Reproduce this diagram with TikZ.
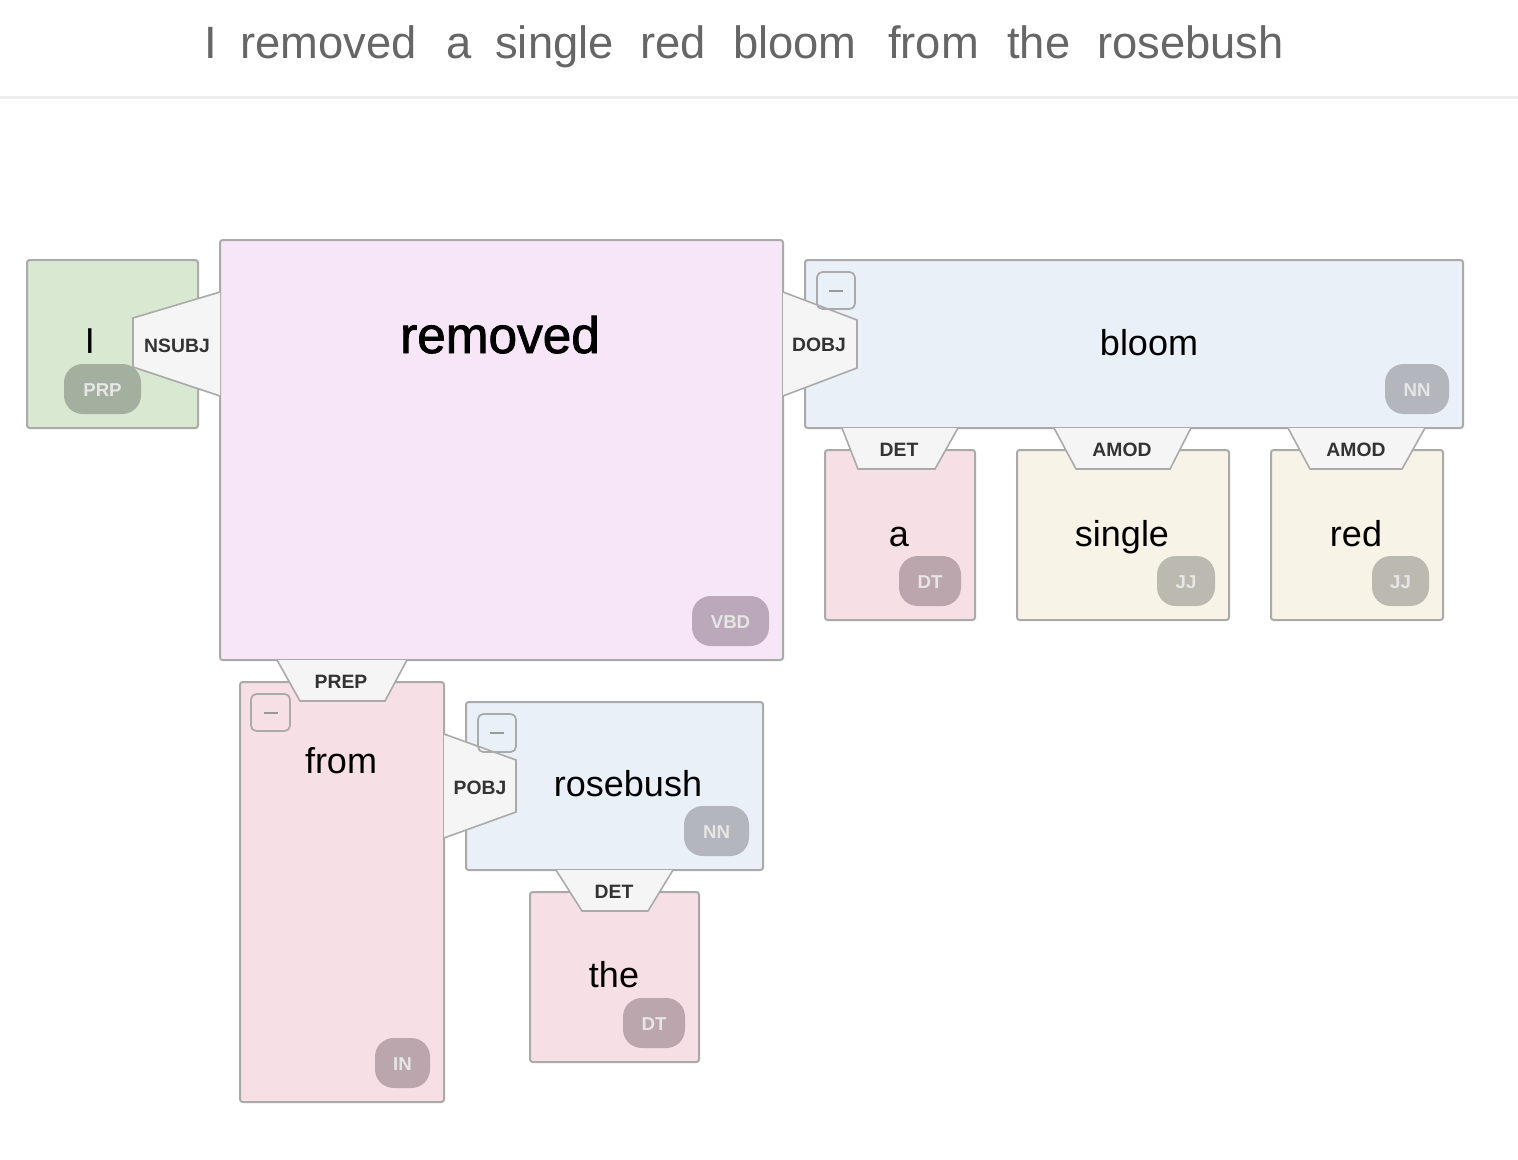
\documentclass[tikz,border=0pt]{standalone}
\usepackage{fontspec}
\setmainfont{Liberation Sans}
\newfontfamily\semibold[FakeBold=1.6]{Liberation Sans}
\definecolor{hdrtxt}{HTML}{666666}
\definecolor{hdrline}{HTML}{EEEEEE}
\definecolor{edge}{HTML}{AAAAAA}
\definecolor{fgreen}{HTML}{D9E8D0}
\definecolor{fviolet}{HTML}{F7E6F7}
\definecolor{fblue}{HTML}{E9F0F7}
\definecolor{fpink}{HTML}{F7DFE6}
\definecolor{fcream}{HTML}{F7F3E6}
\definecolor{flabel}{HTML}{F5F5F5}
\definecolor{tgreen}{HTML}{A4B09F}
\definecolor{tviolet}{HTML}{BBA9BB}
\definecolor{tblue}{HTML}{B3B6BD}
\definecolor{tpink}{HTML}{BCA6AD}
\definecolor{tcream}{HTML}{BCBAB0}
\definecolor{tagtxt}{HTML}{E6E6E6}
\definecolor{lbltxt}{HTML}{333333}
\definecolor{btn}{HTML}{999999}
\tikzset{
  boxline/.style={draw=edge, line width=1.5pt, rounded corners=2pt},
  lblshape/.style={draw=edge, line width=1.2pt, fill=flabel, line join=miter},
  hdrword/.style={anchor=base west, inner sep=0pt, text=hdrtxt, font=\fontsize{34}{40}\selectfont},
  word/.style={anchor=base, inner sep=0pt, font=\fontsize{27}{32}\selectfont},
  bigword/.style={anchor=base, inner sep=0pt, font=\semibold\fontsize{38.5}{44}\selectfont},
  lbl/.style={anchor=base, inner sep=0pt, text=lbltxt, font=\bfseries\fontsize{14.5}{17}\selectfont},
  tagtext/.style={inner sep=0pt, text=tagtxt, font=\bfseries\fontsize{14}{17}\selectfont},
  tagbox/.style={rounded corners=14pt},
  btnbox/.style={draw=edge, line width=1.3pt, rounded corners=4pt},
  btnmark/.style={draw=btn, line width=1.5pt}
}
\begin{document}
\begin{tikzpicture}[x=0.75pt, y=-0.75pt]
\useasboundingbox (0,0) rectangle (1518,1160);
\fill[white] (0,0) rectangle (1518,1160);
% header
\node[hdrword] (h1) at (204,58) {I};
\node[hdrword] (h2) at (240,58) {removed};
\node[hdrword] (h3) at (446,58) {a};
\node[hdrword] (h4) at (495,58) {single};
\node[hdrword] (h5) at (640,58) {red};
\node[hdrword] (h6) at (733,58) {bloom};
\node[hdrword] (h7) at (888,58) {from};
\node[hdrword] (h8) at (1007,58) {the};
\node[hdrword] (h9) at (1097,58) {rosebush};
\fill[hdrline] (0,95.5) rectangle (1518,98.5);

% boxes
\draw[boxline, fill=fgreen] (27,260) rectangle (198,428);
\draw[boxline, fill=fviolet] (220,240) rectangle (783,660);
\draw[boxline, fill=fblue] (805,260) rectangle (1463,428);
\draw[boxline, fill=fpink] (825,450) rectangle (975,620);
\draw[boxline, fill=fcream] (1017,450) rectangle (1229,620);
\draw[boxline, fill=fcream] (1271,450) rectangle (1443,620);
\draw[boxline, fill=fpink] (240,682) rectangle (444,1102);
\draw[boxline, fill=fblue] (466,702) rectangle (763,870);
\draw[boxline, fill=fpink] (530,892) rectangle (699,1062);

% words
\node[word] (wI) at (90,353) {I};
\node[bigword] (wremoved) at (500,353) {removed};
\node[word] (wbloom) at (1149,355) {bloom};
\node[word] (wa) at (899,546) {a};
\node[word] (wsingle) at (1122,546) {single};
\node[word] (wred) at (1356,546) {red};
\node[word] (wfrom) at (341,773) {from};
\node[word] (wrosebush) at (628,796) {rosebush};
\node[word] (wthe) at (614,987) {the};

% tags
\fill[tgreen, tagbox] (64,364) rectangle (141,414);
\node[tagtext] (tPRP) at (102.5,390) {PRP};
\fill[tviolet, tagbox] (692,596) rectangle (769,646);
\node[tagtext] (tVBD) at (730.5,622) {VBD};
\fill[tblue, tagbox] (1385,364) rectangle (1449,414);
\node[tagtext] (tNN1) at (1417,390) {NN};
\fill[tpink, tagbox] (899,556) rectangle (961,606);
\node[tagtext] (tDT1) at (930,582) {DT};
\fill[tcream, tagbox] (1157,556) rectangle (1215,606);
\node[tagtext] (tJJ1) at (1186,582) {JJ};
\fill[tcream, tagbox] (1372,556) rectangle (1429,606);
\node[tagtext] (tJJ2) at (1400.5,582) {JJ};
\fill[tpink, tagbox] (375,1038) rectangle (430,1088);
\node[tagtext] (tIN) at (402.5,1064) {IN};
\fill[tblue, tagbox] (684,806) rectangle (749,856);
\node[tagtext] (tNN2) at (716.5,832) {NN};
\fill[tpink, tagbox] (623,998) rectangle (685,1048);
\node[tagtext] (tDT2) at (654,1024) {DT};

% relation labels
\draw[lblshape] (220,292) -- (133,318) -- (133,367) -- (220,396);
\node[lbl] (lNSUBJ) at (177,352) {NSUBJ};
\draw[lblshape] (783,292) -- (857,320) -- (857,368) -- (783,396);
\node[lbl] (lDOBJ) at (819,351) {DOBJ};
\draw[lblshape] (842,428) -- (858,469) -- (935,469) -- (958,428);
\node[lbl] (lDET1) at (899,456) {DET};
\draw[lblshape] (1054,428) -- (1076,469) -- (1170,469) -- (1191,428);
\node[lbl] (lAMOD1) at (1122,456) {AMOD};
\draw[lblshape] (1288,428) -- (1310,469) -- (1402,469) -- (1425,428);
\node[lbl] (lAMOD2) at (1356,456) {AMOD};
\draw[lblshape] (277,660) -- (300,701) -- (385,701) -- (407,660);
\node[lbl] (lPREP) at (341,688) {PREP};
\draw[lblshape] (444,734) -- (516,760) -- (516,812) -- (444,838);
\node[lbl] (lPOBJ) at (480,794) {POBJ};
\draw[lblshape] (556,870) -- (582,911) -- (648,911) -- (673,870);
\node[lbl] (lDET2) at (614,898) {DET};

% collapse buttons
\draw[btnbox] (817,272) rectangle (855,309);
\draw[btnmark] (829,291) -- (843,291);
\draw[btnbox] (251,694) rectangle (290,731);
\draw[btnmark] (263.5,713) -- (277.5,713);
\draw[btnbox] (478,714) rectangle (516,752);
\draw[btnmark] (490,733) -- (504,733);
\end{tikzpicture}
\end{document}
